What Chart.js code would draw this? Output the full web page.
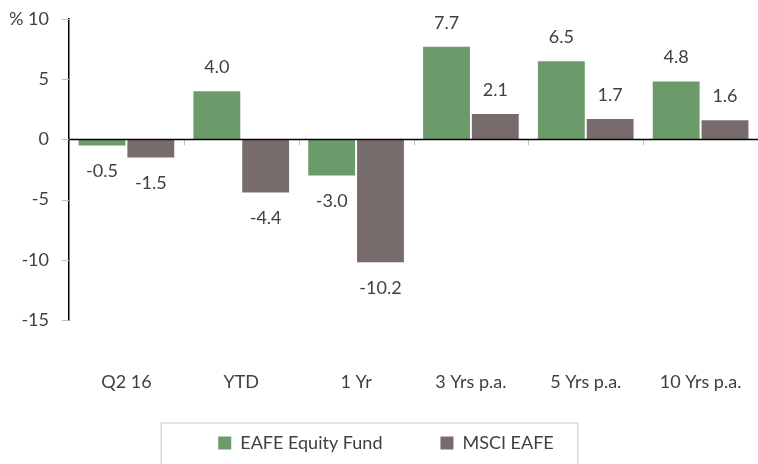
<!DOCTYPE html>
<html><head><meta charset="utf-8">
<script src="https://cdn.jsdelivr.net/npm/chart.js@4/dist/chart.umd.min.js"></script>
<style>html,body{margin:0;padding:0;background:#fff}#wrap{width:758px;height:464px;position:relative}</style>
</head><body><div id="wrap"><canvas id="c" width="758" height="464"></canvas></div>
<script>
const categories = ['Q2 16', 'YTD', '1 Yr', '3 Yrs p.a.', '5 Yrs p.a.', '10 Yrs p.a.'];
const fundValues = [-0.5, 4.0, -3.0, 7.7, 6.5, 4.8];
const indexValues = [-1.5, -4.4, -10.2, 2.1, 1.7, 1.6];
const seriesNames = ['EAFE Equity Fund', 'MSCI EAFE'];
const yMin = -15, yMax = 10, yStep = 5;
const yUnit = '%';

const GREEN = '#6B9A6B', BROWN = '#776C6B', TEXT = '#404040';
const FONT = 'Lato, "Open Sans", sans-serif';
Chart.defaults.font.family = FONT;
Chart.defaults.font.size = 18;
Chart.defaults.color = TEXT;

const overlay = {
  id: 'overlay',
  afterDatasetsDraw(chart) {
    const ctx = chart.ctx, y = chart.scales.y, x = chart.scales.x, area = chart.chartArea;
    const y0 = y.getPixelForValue(0);
    ctx.save();
    // y-axis tick marks (short, outside)
    ctx.strokeStyle = '#bfbfbf'; ctx.lineWidth = 1;
    y.ticks.forEach(t => {
      const py = Math.round(y.getPixelForValue(t.value)) + 0.5;
      ctx.beginPath(); ctx.moveTo(area.left - 7, py); ctx.lineTo(area.left, py); ctx.stroke();
    });
    // category boundary ticks below the zero line
    const step = x.getPixelForValue(1) - x.getPixelForValue(0);
    for (let i = 0; i < categories.length; i++) {
      const bx = Math.round(x.getPixelForValue(i) + step / 2) + 0.5;
      ctx.beginPath(); ctx.moveTo(bx, y0); ctx.lineTo(bx, y0 + 6); ctx.stroke();
    }
    // zero line
    ctx.strokeStyle = '#000'; ctx.lineWidth = 1.5;
    ctx.beginPath(); ctx.moveTo(area.left, y0); ctx.lineTo(area.right, y0); ctx.stroke();
    // value labels
    ctx.fillStyle = TEXT; ctx.font = '18px ' + FONT;
    ctx.textAlign = 'center'; ctx.textBaseline = 'middle';
    chart.data.datasets.forEach((ds, di) => {
      chart.getDatasetMeta(di).data.forEach((bar, i) => {
        const v = ds.data[i];
        const ty = v >= 0 ? bar.y - 24 : bar.y + 26;
        ctx.fillText(v.toFixed(1), bar.x, ty);
      });
    });
    ctx.restore();
  },
  afterDraw(chart) {
    const lg = chart.legend, hb = lg.legendHitBoxes;
    if (!hb || !hb.length) return;
    const ctx = chart.ctx;
    const last = hb[hb.length - 1];
    const left = hb[0].left - 57, right = last.left + last.width + 24;
    const top = hb[0].top - 11;
    ctx.save();
    ctx.strokeStyle = '#d9d9d9'; ctx.lineWidth = 1.5;
    ctx.strokeRect(left, top, right - left, chart.height - top + 10);
    ctx.restore();
  }
};

new Chart(document.getElementById('c'), {
  type: 'bar',
  data: {
    labels: categories,
    datasets: [
      { label: seriesNames[0], data: fundValues, backgroundColor: GREEN },
      { label: seriesNames[1], data: indexValues, backgroundColor: BROWN }
    ]
  },
  options: {
    responsive: false, animation: false, devicePixelRatio: 1,
    categoryPercentage: 0.85, barPercentage: 0.96,
    layout: { padding: { left: 10, right: -4, top: 19, bottom: 2 } },
    plugins: {
      tooltip: { enabled: false },
      legend: {
        position: 'bottom',
        labels: { boxWidth: 13, boxHeight: 13, padding: 58, color: TEXT, font: { size: 18 } }
      }
    },
    scales: {
      x: {
        grid: { display: false, drawTicks: false },
        border: { display: false },
        ticks: { mirror: true, padding: -73, color: TEXT, maxRotation: 0, autoSkip: false },
        afterFit(s) { s.height = 56; }
      },
      y: {
        min: yMin, max: yMax,
        ticks: { stepSize: yStep, padding: 0, color: TEXT,
          callback: v => v === yMax ? yUnit + ' ' + v : String(v) },
        grid: { drawOnChartArea: false, drawTicks: true, tickLength: 20, tickColor: 'rgba(0,0,0,0)' },
        border: { display: true, color: '#000', width: 1.5 },
        afterFit(s) { s.width = 59; }
      }
    }
  },
  plugins: [overlay]
});
</script></body></html>
